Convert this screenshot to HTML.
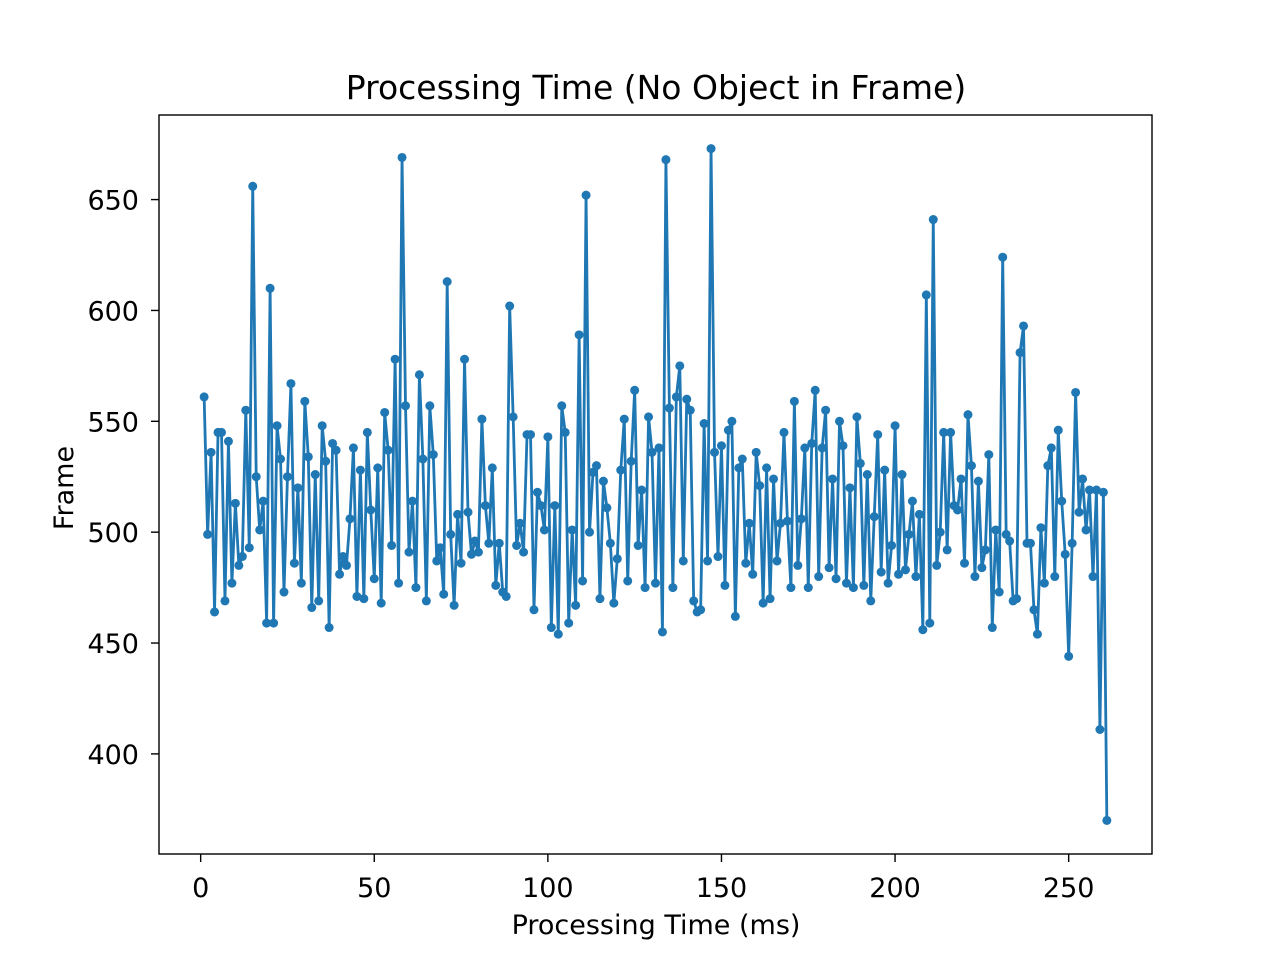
<!DOCTYPE html>
<html><head><meta charset="utf-8"><style>
html,body{margin:0;padding:0;background:#fff;}
svg{display:block;font-family:"DejaVu Sans","Liberation Sans",sans-serif;}
</style></head><body>
<svg id="chart" width="1280" height="960">
<rect width="1280" height="960" fill="#fff"/>
<text x="656" y="99" font-size="33" text-anchor="middle">Processing Time (No Object in Frame)</text>
<g id="plot"></g>
<text x="656" y="934" font-size="27" text-anchor="middle">Processing Time (ms)</text>
<text transform="translate(73,488) rotate(-90)" font-size="27" text-anchor="middle">Frame</text>
</svg>
<script>
const frameValues = [561,499,536,464,545,545,469,541,477,513,485,489,555,493,656,525,501,514,459,610,459,548,533,473,525,567,486,520,477,559,534,466,526,469,548,532,457,540,537,481,489,485,506,538,471,528,470,545,510,479,529,468,554,537,494,578,477,669,557,491,514,475,571,533,469,557,535,487,493,472,613,499,467,508,486,578,509,490,496,491,551,512,495,529,476,495,473,471,602,552,494,504,491,544,544,465,518,512,501,543,457,512,454,557,545,459,501,467,589,478,652,500,527,530,470,523,511,495,468,488,528,551,478,532,564,494,519,475,552,536,477,538,455,668,556,475,561,575,487,560,555,469,464,465,549,487,673,536,489,539,476,546,550,462,529,533,486,504,481,536,521,468,529,470,524,487,504,545,505,475,559,485,506,538,475,540,564,480,538,555,484,524,479,550,539,477,520,475,552,531,476,526,469,507,544,482,528,477,494,548,481,526,483,499,514,480,508,456,607,459,641,485,500,545,492,545,512,510,524,486,553,530,480,523,484,492,535,457,501,473,624,499,496,469,470,581,593,495,495,465,454,502,477,530,538,480,546,514,490,444,495,563,509,524,501,519,480,519,411,518,370];
const xTicks = [0,50,100,150,200,250];
const yTicks = [400,450,500,550,600,650];
const L=159,R=1152,T=115,B=854;
const xMin=-12,xMax=274,yMin=354.85,yMax=688.15;
const sx=v=>L+(v-xMin)/(xMax-xMin)*(R-L);
const sy=v=>B-(v-yMin)/(yMax-yMin)*(B-T);
const NS="http://www.w3.org/2000/svg";
const g=document.getElementById('plot');
function mk(t,a){const e=document.createElementNS(NS,t);for(const k in a)e.setAttribute(k,a[k]);return e;}
let d='';
frameValues.forEach((v,i)=>{d+=(i?'L':'M')+sx(i+1).toFixed(2)+','+sy(v).toFixed(2);});
const line=mk('path',{d:d,fill:'none',stroke:'#1f77b4','stroke-width':2.8,'stroke-linejoin':'round'});


g.appendChild(line);
frameValues.forEach((v,i)=>{
  const c=mk('circle',{cx:sx(i+1),cy:sy(v),r:4.5,fill:'#1f77b4'});
  
  
  g.appendChild(c);
});
const frame=mk('rect',{x:L,y:T,width:R-L,height:B-T,fill:'none',stroke:'#000','stroke-width':1.4});


g.appendChild(frame);
xTicks.forEach(t=>{
  const x=sx(t);
  const tk=mk('line',{x1:x,x2:x,y1:B,y2:B+8,stroke:'#000','stroke-width':1.4});
  
  
  g.appendChild(tk);
  const tx=mk('text',{x:x,y:897,'font-size':27,'text-anchor':'middle'});
  tx.textContent=t;
  
  
  g.appendChild(tx);
});
yTicks.forEach(t=>{
  const y=sy(t);
  const tk=mk('line',{x1:L-8,x2:L,y1:y,y2:y,stroke:'#000','stroke-width':1.4});
  
  
  g.appendChild(tk);
  const tx=mk('text',{x:L-20,y:y+10,'font-size':27,'text-anchor':'end'});
  tx.textContent=t;
  
  
  g.appendChild(tx);
});
</script>
</body></html>
